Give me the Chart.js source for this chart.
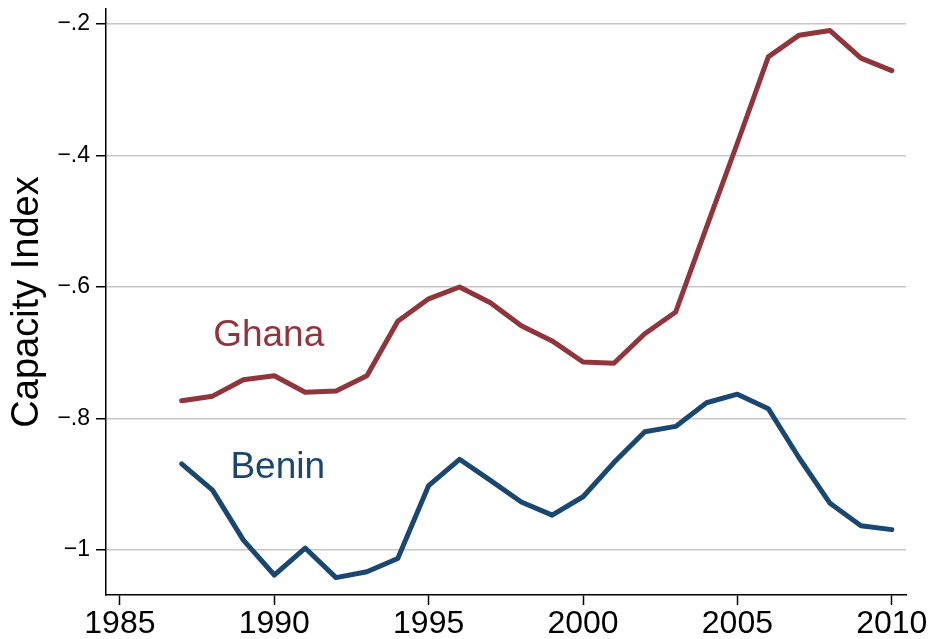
<!DOCTYPE html>
<html>
<head>
<meta charset="utf-8">
<title>Capacity Index</title>
<script src="https://cdn.jsdelivr.net/npm/chart.js@4/dist/chart.umd.min.js"></script>
<style>
    html, body { margin: 0; padding: 0; background: #fff; }
    #wrap { width: 933px; height: 639px; }
</style>
</head>
<body>
<div id="wrap"><canvas id="capacityChart" width="933" height="639"></canvas></div>
<script>
// data
const years = [1987, 1988, 1989, 1990, 1991, 1992, 1993, 1994, 1995, 1996, 1997, 1998,
    1999, 2000, 2001, 2002, 2003, 2004, 2005, 2006, 2007, 2008, 2009, 2010];
const ghana = [-0.773, -0.766, -0.741, -0.735, -0.760, -0.758, -0.735, -0.652, -0.618, -0.600, -0.624, -0.659,
    -0.682, -0.714, -0.716, -0.671, -0.638, -0.509, -0.381, -0.250, -0.217, -0.210, -0.252, -0.271];
const benin = [-0.869, -0.909, -0.985, -1.038, -0.997, -1.042, -1.033, -1.013, -0.902, -0.862, -0.894, -0.927,
    -0.947, -0.919, -0.867, -0.820, -0.812, -0.776, -0.763, -0.785, -0.860, -0.929, -0.963, -0.969];
const xTicks = [1985, 1990, 1995, 2000, 2005, 2010];
const yTicks = [-0.2, -0.4, -0.6, -0.8, -1];
const yTickLabels = ['\u2212.2', '\u2212.4', '\u2212.6', '\u2212.8', '\u22121'];

const FONT = "'Liberation Sans', Arial, Helvetica, sans-serif";
const GHANA_COLOR = '#90353b';
const BENIN_COLOR = '#1a476f';

function toPoints(values) {
    return years.map(function (y, i) {
        return {x: y, y: values[i]};
    });
}

// series name written next to each line, anchored in data units
const seriesLabels = [
    {text: 'Ghana', x: 1988.02, y: -0.690, color: GHANA_COLOR},
    {text: 'Benin', x: 1988.58, y: -0.890, color: BENIN_COLOR}
];

const labelPlugin = {
    id: 'seriesLabels',
    afterDatasetsDraw: function (chart) {
        let ctx = chart.ctx;
        let xs = chart.scales.x, ys = chart.scales.y;
        ctx.save();
        ctx.font = '37px ' + FONT;
        ctx.textAlign = 'left';
        ctx.textBaseline = 'alphabetic';
        seriesLabels.forEach(function (l) {
            ctx.fillStyle = l.color;
            ctx.fillText(l.text, xs.getPixelForValue(l.x), ys.getPixelForValue(l.y));
        });
        ctx.restore();
    }
};

let chart = new Chart(document.getElementById('capacityChart'), {
    type: 'line',
    data: {
        datasets: [
            {
                label: 'Ghana',
                data: toPoints(ghana),
                borderColor: GHANA_COLOR,
                borderWidth: 5,
                pointRadius: 0,
                tension: 0,
                borderCapStyle: 'round',
                borderJoinStyle: 'round'
            },
            {
                label: 'Benin',
                data: toPoints(benin),
                borderColor: BENIN_COLOR,
                borderWidth: 5,
                pointRadius: 0,
                tension: 0,
                borderCapStyle: 'round',
                borderJoinStyle: 'round'
            }
        ]
    },
    options: {
        responsive: false,
        devicePixelRatio: 1,
        animation: false,
        layout: {padding: {top: 9, right: 27, left: 0, bottom: 0}},
        plugins: {
            legend: {display: false},
            tooltip: {enabled: false}
        },
        scales: {
            x: {
                type: 'linear',
                min: 1984.55,
                max: 2010.46,
                afterBuildTicks: function (scale) {
                    scale.ticks = xTicks.map(function (v) { return {value: v}; });
                },
                afterFit: function (scale) {
                    scale.height = 44;
                    scale.paddingLeft = 0;
                    scale.paddingRight = 0;
                },
                grid: {
                    drawOnChartArea: false,
                    drawTicks: true,
                    tickLength: 10,
                    tickColor: '#000',
                    tickWidth: 1.5
                },
                border: {display: true, color: '#000', width: 1.5},
                ticks: {
                    autoSkip: false,
                    maxRotation: 0,
                    padding: 0,
                    color: '#000',
                    font: {family: FONT, size: 32},
                    callback: function (v) { return String(v); }
                }
            },
            y: {
                type: 'linear',
                min: -1.0684,
                max: -0.1772,
                afterBuildTicks: function (scale) {
                    scale.ticks = yTicks.map(function (v) { return {value: v}; });
                },
                afterFit: function (scale) {
                    scale.width = 106;
                    scale.paddingTop = 0;
                    scale.paddingBottom = 0;
                },
                grid: {
                    color: '#c8c8c8',
                    lineWidth: 1.5,
                    drawTicks: true,
                    tickLength: 10,
                    tickColor: '#000',
                    tickWidth: 1.5
                },
                border: {display: true, color: '#000', width: 1.5},
                title: {
                    display: true,
                    text: 'Capacity Index',
                    color: '#000',
                    font: {family: FONT, size: 38},
                    padding: {top: 5, bottom: 0}
                },
                ticks: {
                    autoSkip: false,
                    padding: 6,
                    color: '#000',
                    font: {family: FONT, size: 23},
                    callback: function (v) {
                        let i = yTicks.indexOf(v);
                        return i >= 0 ? yTickLabels[i] : '';
                    }
                }
            }
        }
    },
    plugins: [labelPlugin]
});
</script>
</body>
</html>
